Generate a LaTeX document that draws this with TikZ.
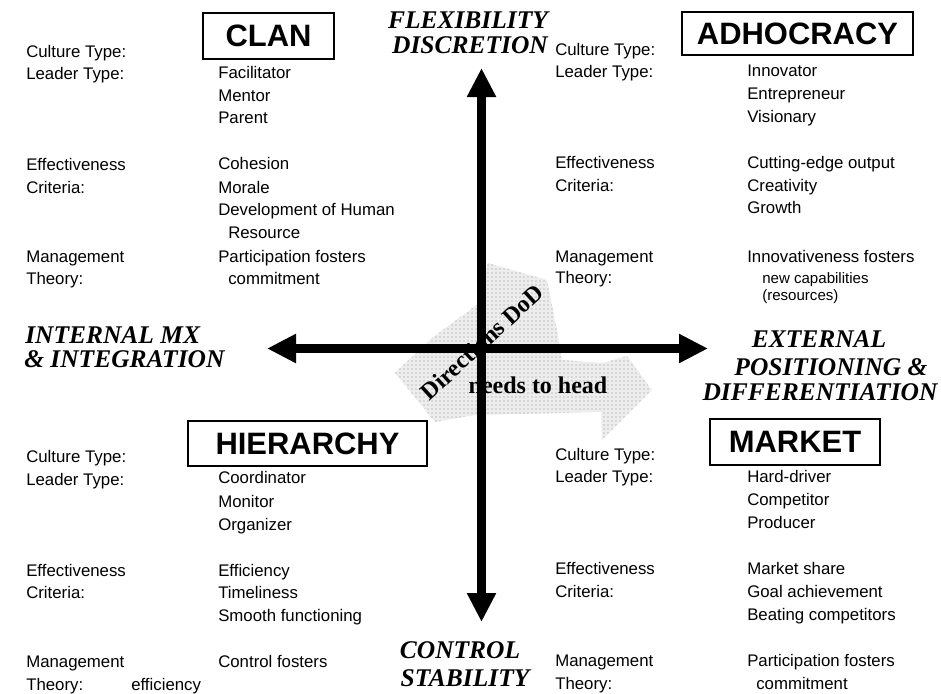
\documentclass[tikz,border=0pt]{standalone}
\usepackage{fontspec}
\setmainfont{Liberation Serif}
\newfontfamily\arialf{Liberation Sans}
\usetikzlibrary{arrows.meta,patterns}
\tikzset{
  body/.style={font=\arialf\fontsize{12.6}{14}\selectfont, anchor=base west, inner sep=0pt},
  small/.style={font=\arialf\fontsize{11.3}{13}\selectfont, anchor=base west, inner sep=0pt},
  axlabel/.style={font=\bfseries\itshape\fontsize{19.1}{22}\selectfont, anchor=base, inner sep=0pt},
  axlabelw/.style={font=\bfseries\itshape\fontsize{19.1}{22}\selectfont, anchor=base west, inner sep=0pt},
  quad/.style={draw, line width=1.1pt, font=\arialf\bfseries\fontsize{23.2}{26}\selectfont, inner sep=0pt, anchor=center},
  axisline/.style={line width=6.75pt, {Triangle[length=21.75pt,width=20.5pt]}-{Triangle[length=21.75pt,width=20.5pt]}},
  shade/.style={preaction={fill=black!7}, pattern=dots, pattern color=black!45},
  dodtext/.style={font=\bfseries\fontsize{18}{20}\selectfont, inner sep=0pt}
}
\begin{document}
\begin{tikzpicture}[x=0.75pt,y=-0.75pt]
\useasboundingbox (0,0) rectangle (941,693);

% shaded bent arrow
\path[shade] (488,263) -- (547,280) -- (558,335) -- (562,360) -- (603,363) -- (627,356)
  -- (652,390) -- (602,440) -- (601,412) -- (475,415) -- (435,422) -- (395,373)
  -- (433,337) -- (478,304) -- cycle;
\node[dodtext, rotate=42.5] (dirdod) at (482,342) {Directions DoD};
\node[dodtext] (needs) at (538,385) {needs to head};

% axes
\coordinate (vtop) at (481.5,68);
\coordinate (vbot) at (481.5,622);
\coordinate (hleft) at (267,348.5);
\coordinate (hright) at (708,348.5);
\draw[axisline] (vbot) -- (vtop);
\draw[axisline] (hleft) -- (hright);

% axis labels
\node[axlabel] (flex) at (468,28) {FLEXIBILITY};
\node[axlabel] (disc) at (470,53) {DISCRETION};
\node[axlabelw] (intmx) at (25,343) {INTERNAL MX};
\node[axlabelw] (intint) at (24,367) {\& INTEGRATION};
\node[axlabel] (ext) at (819,347) {EXTERNAL};
\node[axlabel] (pos) at (831,375) {POSITIONING \&};
\node[axlabel] (diff) at (820,400) {DIFFERENTIATION};
\node[axlabel] (ctrl) at (460,658) {CONTROL};
\node[axlabel] (stab) at (465,686) {STABILITY};

% quadrant boxes
\node[quad, minimum width=98.3pt, minimum height=34.5pt] (clan) at (268.5,36) {CLAN};
\node[quad, minimum width=173.3pt, minimum height=32.3pt] (adho) at (797.5,33.5) {ADHOCRACY};
\node[quad, minimum width=179.3pt, minimum height=33.8pt] (hier) at (307.5,443.5) {HIERARCHY};
\node[quad, minimum width=127.5pt, minimum height=34.5pt] (mark) at (795,442) {MARKET};

% CLAN quadrant
\node[body] (c1) at (26,57) {Culture Type:};
\node[body] (c2) at (26,79) {Leader Type:};
\node[body] (c3) at (26,170) {Effectiveness};
\node[body] (c4) at (26,193) {Criteria:};
\node[body] (c5) at (26,262) {Management};
\node[body] (c6) at (26,284) {Theory:};
\node[body] (cv1) at (218,78) {Facilitator};
\node[body] (cv2) at (218,101) {Mentor};
\node[body] (cv3) at (218,123) {Parent};
\node[body] (cv4) at (218,169) {Cohesion};
\node[body] (cv5) at (218,193) {Morale};
\node[body] (cv6) at (218,215) {Development of Human};
\node[body] (cv7) at (228,238) {Resource};
\node[body] (cv8) at (218,262) {Participation fosters};
\node[body] (cv9) at (228,284) {commitment};

% ADHOCRACY quadrant
\node[body] (a1) at (555,55) {Culture Type:};
\node[body] (a2) at (555,77) {Leader Type:};
\node[body] (a3) at (555,168) {Effectiveness};
\node[body] (a4) at (555,191) {Criteria:};
\node[body] (a5) at (555,262) {Management};
\node[body] (a6) at (555,283) {Theory:};
\node[body] (av1) at (747,76) {Innovator};
\node[body] (av2) at (747,99) {Entrepreneur};
\node[body] (av3) at (747,122) {Visionary};
\node[body] (av4) at (747,168) {Cutting-edge output};
\node[body] (av5) at (747,191) {Creativity};
\node[body] (av6) at (747,213) {Growth};
\node[body] (av7) at (747,262) {Innovativeness fosters};
\node[small] (av8) at (762,283) {new capabilities};
\node[small] (av9) at (762,300) {(resources)};

% HIERARCHY quadrant
\node[body] (h1) at (26,462) {Culture Type:};
\node[body] (h2) at (26,485) {Leader Type:};
\node[body] (h3) at (26,576) {Effectiveness};
\node[body] (h4) at (26,598) {Criteria:};
\node[body] (h5) at (26,667) {Management};
\node[body] (h6) at (26,690) {Theory:};
\node[body] (h7) at (131,690) {efficiency};
\node[body] (hv1) at (218,483) {Coordinator};
\node[body] (hv2) at (218,507) {Monitor};
\node[body] (hv3) at (218,530) {Organizer};
\node[body] (hv4) at (218,576) {Efficiency};
\node[body] (hv5) at (218,598) {Timeliness};
\node[body] (hv6) at (218,621) {Smooth functioning};
\node[body] (hv7) at (218,667) {Control fosters};

% MARKET quadrant
\node[body] (m1) at (555,460) {Culture Type:};
\node[body] (m2) at (555,482) {Leader Type:};
\node[body] (m3) at (555,574) {Effectiveness};
\node[body] (m4) at (555,597) {Criteria:};
\node[body] (m5) at (555,666) {Management};
\node[body] (m6) at (555,689) {Theory:};
\node[body] (mv1) at (747,482) {Hard-driver};
\node[body] (mv2) at (747,505) {Competitor};
\node[body] (mv3) at (747,528) {Producer};
\node[body] (mv4) at (747,574) {Market share};
\node[body] (mv5) at (747,597) {Goal achievement};
\node[body] (mv6) at (747,620) {Beating competitors};
\node[body] (mv7) at (747,666) {Participation fosters};
\node[body] (mv8) at (756,689) {commitment};
\end{tikzpicture}
\end{document}
